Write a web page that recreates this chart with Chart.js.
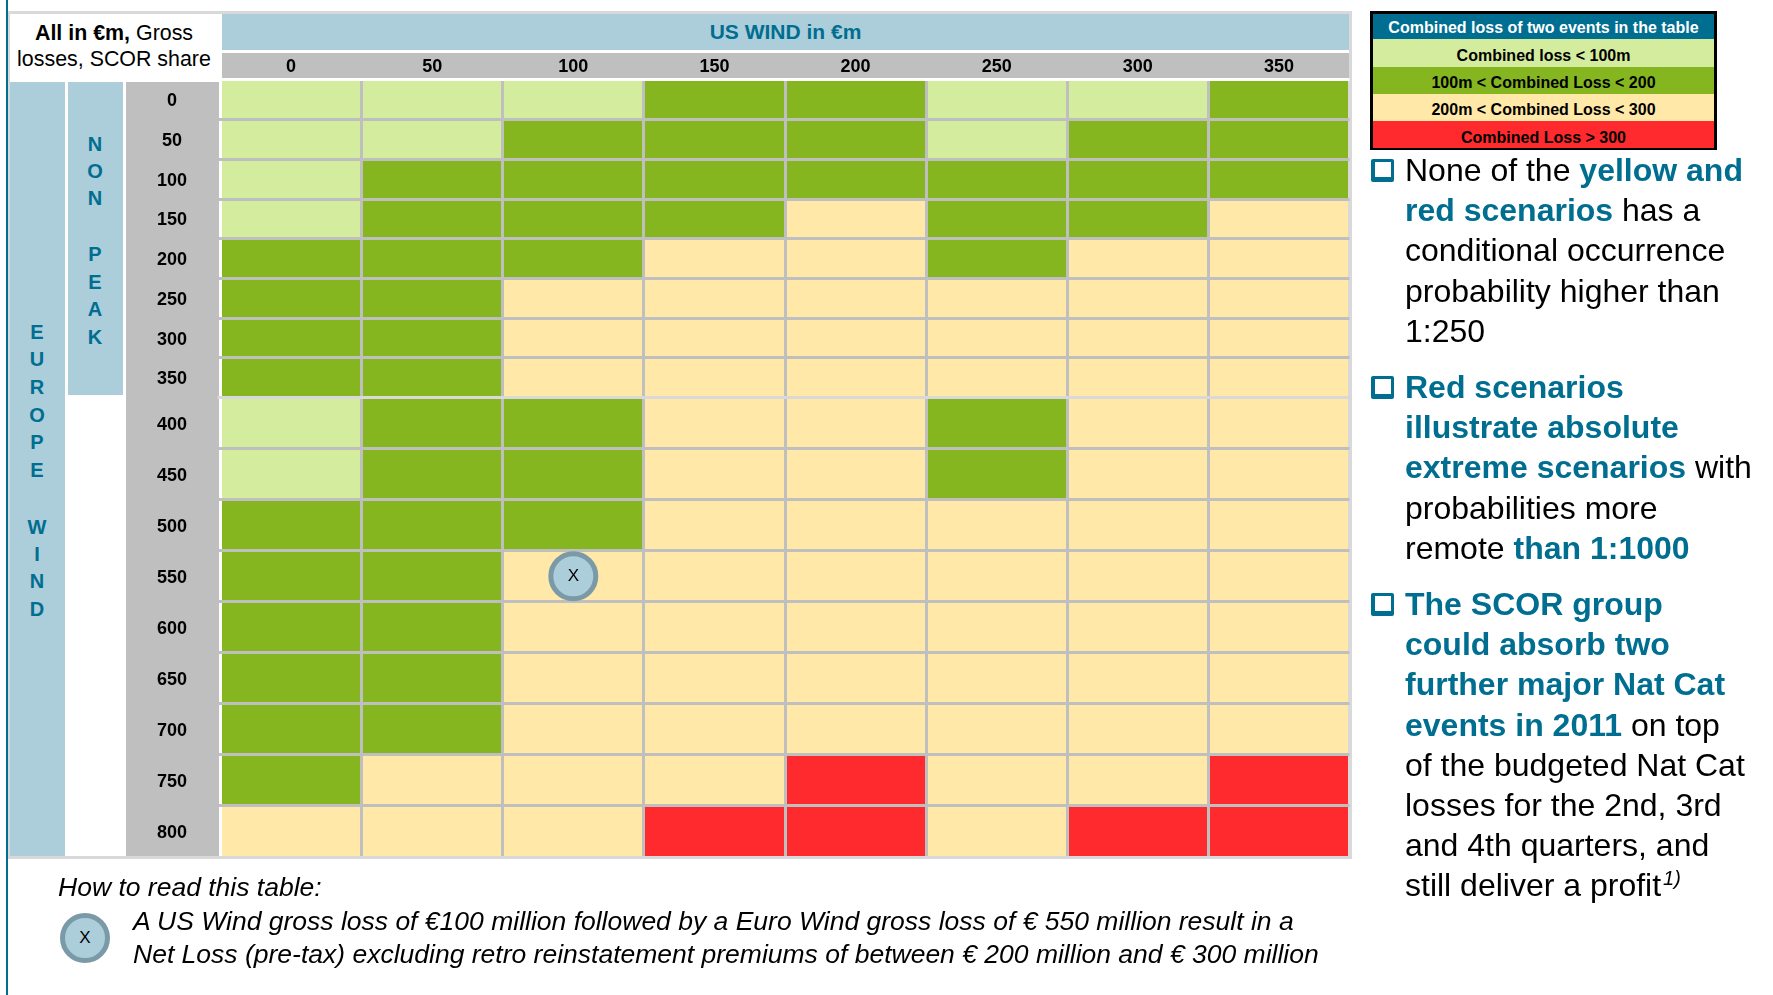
<!DOCTYPE html>
<html>
<head>
<meta charset="utf-8">
<title>Combined loss table</title>
<script src="https://cdn.jsdelivr.net/npm/chart.js@4"></script>
<style>
    html, body { margin: 0; padding: 0; background: #fff; width: 1773px; height: 995px; overflow: hidden; }
    body { position: relative; font-family: "Liberation Sans", Arial, sans-serif; color: #000; }
    .box { position: absolute; }
    .teal { color: #006e90; font-weight: bold; }
    .letters { position: absolute; color: #006e90; font-weight: bold; font-size: 20px; line-height: 20px; text-align: center; transform: translateX(-50%); }
    .note { position: absolute; left: 1405px; font-size: 32px; line-height: 40.2px; white-space: nowrap; }
    .bullet { position: absolute; left: 1371px; width: 16px; height: 15px; border: 3px solid #006e90; border-bottom-width: 5px; border-left-width: 4px; border-radius: 2px; }
    .legend-row { position: absolute; left: 1373px; width: 341px; text-align: center; font-weight: bold; font-size: 16px; }
    .howto { position: absolute; font-style: italic; font-size: 26.5px; white-space: nowrap; }
    canvas { position: absolute; left: 0; top: 0; }
</style>
</head>
<body>
    <div class="box" style="left:6px;top:0;width:2px;height:995px;background:#006e90"></div>
    <div class="box" style="left:8px;top:11px;width:1344px;height:848px;background:#d9d9d9"></div>
    <div class="box" style="left:10px;top:14px;width:1339px;height:842px;background:#fff"></div>
    <div class="box" style="left:222px;top:14px;width:1127px;height:36px;background:#accdda;color:#006e90;font-weight:bold;font-size:21px;line-height:36px;text-align:center">US WIND in €m</div>
    <div class="box" style="left:222px;top:53px;width:1127px;height:26px;background:#bfbfbf"></div>
    <div class="box" style="left:10px;top:82px;width:55px;height:774px;background:#accdda"></div>
    <div class="box" style="left:68px;top:82px;width:55px;height:313px;background:#accdda"></div>
    <div class="box" style="left:126px;top:82px;width:93px;height:774px;background:#bfbfbf"></div>

    <div class="box" style="left:10px;top:21px;width:208px;text-align:center;font-size:21.4px;line-height:25.5px;white-space:nowrap"><b>All in €m,</b> Gross<br>losses, SCOR share</div>

    <div class="letters" style="left:37px;top:322px">E</div>
    <div class="letters" style="left:37px;top:349px">U</div>
    <div class="letters" style="left:37px;top:377px">R</div>
    <div class="letters" style="left:37px;top:405px">O</div>
    <div class="letters" style="left:37px;top:432px">P</div>
    <div class="letters" style="left:37px;top:460px">E</div>
    <div class="letters" style="left:37px;top:517px">W</div>
    <div class="letters" style="left:37px;top:544px">I</div>
    <div class="letters" style="left:37px;top:571px">N</div>
    <div class="letters" style="left:37px;top:599px">D</div>
    <div class="letters" style="left:95px;top:134px">N</div>
    <div class="letters" style="left:95px;top:161px">O</div>
    <div class="letters" style="left:95px;top:188px">N</div>
    <div class="letters" style="left:95px;top:244px">P</div>
    <div class="letters" style="left:95px;top:272px">E</div>
    <div class="letters" style="left:95px;top:299px">A</div>
    <div class="letters" style="left:95px;top:327px">K</div>

    <canvas id="lossTable" width="1773" height="995"></canvas>

    <div class="box" style="left:1370px;top:11px;width:347px;height:139px;background:#000"></div>
    <div class="legend-row" style="top:14px;height:25px;line-height:27px;background:#006e90;color:#fff">Combined loss of two events in the table</div>
    <div class="legend-row" style="top:39px;height:28px;line-height:33px;background:#d3ec9d">Combined loss &lt; 100m</div>
    <div class="legend-row" style="top:67px;height:27px;line-height:32px;background:#85b61f">100m &lt; Combined Loss &lt; 200</div>
    <div class="legend-row" style="top:94px;height:27px;line-height:32px;background:#ffe8a8">200m &lt; Combined Loss &lt; 300</div>
    <div class="legend-row" style="top:121px;height:27px;line-height:33px;background:#ff2a2d;overflow:hidden">Combined Loss &gt; 300</div>

    <div class="bullet" style="top:159px"></div>
    <div class="note" style="top:150px">None of the <span class="teal">yellow and<br>red scenarios</span> has a<br>conditional occurrence<br>probability higher than<br>1:250</div>
    <div class="bullet" style="top:376px"></div>
    <div class="note" style="top:367px"><span class="teal">Red scenarios<br>illustrate absolute<br>extreme scenarios</span> with<br>probabilities more<br>remote <span class="teal">than 1:1000</span></div>
    <div class="bullet" style="top:593px"></div>
    <div class="note" style="top:584px"><span class="teal">The SCOR group<br>could absorb two<br>further major Nat Cat<br>events in 2011</span> on top<br>of the budgeted Nat Cat<br>losses for the 2nd, 3rd<br>and 4th quarters, and<br>still deliver a profit<sup style="font-size:20px;font-style:italic;line-height:0;margin-left:2px">1)</sup></div>

    <div class="howto" style="left:58px;top:872px">How to read this table:</div>
    <div class="box" style="left:60px;top:913px;width:40px;height:40px;border:5px solid #7b9aa8;border-radius:50%;background:#accdda;text-align:center;font-size:17px;line-height:40px">X</div>
    <div class="howto" style="left:133px;top:906px">A US Wind gross loss of €100 million followed by a Euro Wind gross loss of € 550 million result in a</div>
    <div class="howto" style="left:133px;top:939px">Net Loss (pre-tax) excluding retro reinstatement premiums of between € 200 million and € 300 million</div>

<script>
// US wind loss per column, Europe wind loss per row (€m)
const usWind = [0, 50, 100, 150, 200, 250, 300, 350];
const europeNonPeak = ['0', '50', '100', '150', '200', '250', '300', '350'];
const europePeak = ['400', '450', '500', '550', '600', '650', '700', '750', '800'];

// Combined loss band per cell: 0 < 100m, 1 100-200m, 2 200-300m, 3 > 300m
const bandsNonPeak = [
    [0, 0, 0, 1, 1, 0, 0, 1],
    [0, 0, 1, 1, 1, 0, 1, 1],
    [0, 1, 1, 1, 1, 1, 1, 1],
    [0, 1, 1, 1, 2, 1, 1, 2],
    [1, 1, 1, 2, 2, 1, 2, 2],
    [1, 1, 2, 2, 2, 2, 2, 2],
    [1, 1, 2, 2, 2, 2, 2, 2],
    [1, 1, 2, 2, 2, 2, 2, 2]
];
const bandsPeak = [
    [0, 1, 1, 2, 2, 1, 2, 2],
    [0, 1, 1, 2, 2, 1, 2, 2],
    [1, 1, 1, 2, 2, 2, 2, 2],
    [1, 1, 2, 2, 2, 2, 2, 2],
    [1, 1, 2, 2, 2, 2, 2, 2],
    [1, 1, 2, 2, 2, 2, 2, 2],
    [1, 1, 2, 2, 2, 2, 2, 2],
    [1, 2, 2, 2, 3, 2, 2, 3],
    [2, 2, 2, 3, 3, 2, 3, 3]
];

// Scenario marked in the table
const exampleUsWind = 100;
const exampleEurope = '550';

const bandColors = ['#d3ec9d', '#85b61f', '#ffe8a8', '#ff2a2d'];
const gridColor = '#bfbfbf';
const frameColor = '#d9d9d9';
const columnStep = 50;

function columnDataset(col, rows, axisId) {
    return {
        type: 'bar',
        yAxisID: axisId,
        xAxisID: 'x',
        grouped: false,
        barPercentage: 1,
        categoryPercentage: 1,
        data: rows.map(() => [usWind[col], usWind[col] + columnStep]),
        backgroundColor: rows.map(row => bandColors[row[col]])
    };
}

const datasets = [];
usWind.forEach((value, col) => {
    datasets.push(columnDataset(col, bandsNonPeak, 'yTop'));
    datasets.push(columnDataset(col, bandsPeak, 'yBottom'));
});
datasets.push({
    type: 'scatter',
    indexAxis: 'x',
    yAxisID: 'yBottom',
    xAxisID: 'x',
    data: [{ x: exampleUsWind + columnStep / 2, y: exampleEurope }],
    pointRadius: 22.5,
    pointBorderWidth: 5,
    pointBackgroundColor: '#accdda',
    pointBorderColor: '#7b9aa8'
});

function rowAxis(labels, weight) {
    return {
        type: 'category',
        axis: 'y',
        labels: labels,
        position: 'left',
        stack: 'europe',
        stackWeight: weight,
        offset: true,
        afterFit: scale => { scale.width = 94.5; },
        border: { display: false },
        grid: {
            offset: true,
            z: 2,
            lineWidth: 3,
            tickLength: 3,
            color: ctx => ctx.index === 0 && labels === europeNonPeak ? '#fff' : (ctx.tick ? gridColor : frameColor)
        },
        ticks: {
            autoSkip: false,
            padding: 30.5,
            labelOffset: 1.5,
            crossAlign: 'center',
            color: '#000',
            font: { family: '"Liberation Sans"', size: 18, weight: 'bold' }
        }
    };
}

// Puts the marker back on top of the grid lines and writes its X
const markerPlugin = {
    id: 'marker',
    afterDraw(chart) {
        const ctx = chart.ctx;
        const point = chart.getDatasetMeta(datasets.length - 1).data[0];
        point.draw(ctx, chart.chartArea);
        ctx.save();
        ctx.fillStyle = '#000';
        ctx.font = '17px "Liberation Sans"';
        ctx.textAlign = 'center';
        ctx.textBaseline = 'middle';
        ctx.fillText('X', point.x, point.y);
        ctx.restore();
    }
};

new Chart(document.getElementById('lossTable').getContext('2d'), {
    type: 'bar',
    data: { datasets: datasets },
    plugins: [markerPlugin],
    options: {
        indexAxis: 'y',
        responsive: false,
        animation: false,
        layout: { autoPadding: false, padding: { left: 126, right: 423.5, top: 53, bottom: 138 } },
        plugins: { legend: { display: false }, tooltip: { enabled: false } },
        scales: {
            x: {
                type: 'linear',
                position: 'bottom',
                min: usWind[0],
                max: usWind[usWind.length - 1] + columnStep,
                afterFit: scale => { scale.height = 0; },
                border: { display: false },
                ticks: { display: false, stepSize: columnStep },
                grid: {
                    z: 1,
                    lineWidth: 3,
                    drawTicks: false,
                    color: ctx => ctx.tick.value === 0 ? '#fff' : (ctx.tick.value === 400 ? frameColor : gridColor)
                }
            },
            xLabels: {
                type: 'category',
                axis: 'x',
                labels: usWind.map(String),
                position: 'top',
                offset: true,
                afterFit: scale => { scale.height = 27; },
                border: { display: false },
                grid: { display: false, drawTicks: false },
                ticks: {
                    padding: 2,
                    color: '#000',
                    maxRotation: 0,
                    font: { family: '"Liberation Sans"', size: 18, weight: 'bold' }
                }
            },
            yBottom: rowAxis(europePeak, 459.4),
            yTop: rowAxis(europeNonPeak, 317.6)
        }
    }
});
</script>
</body>
</html>
